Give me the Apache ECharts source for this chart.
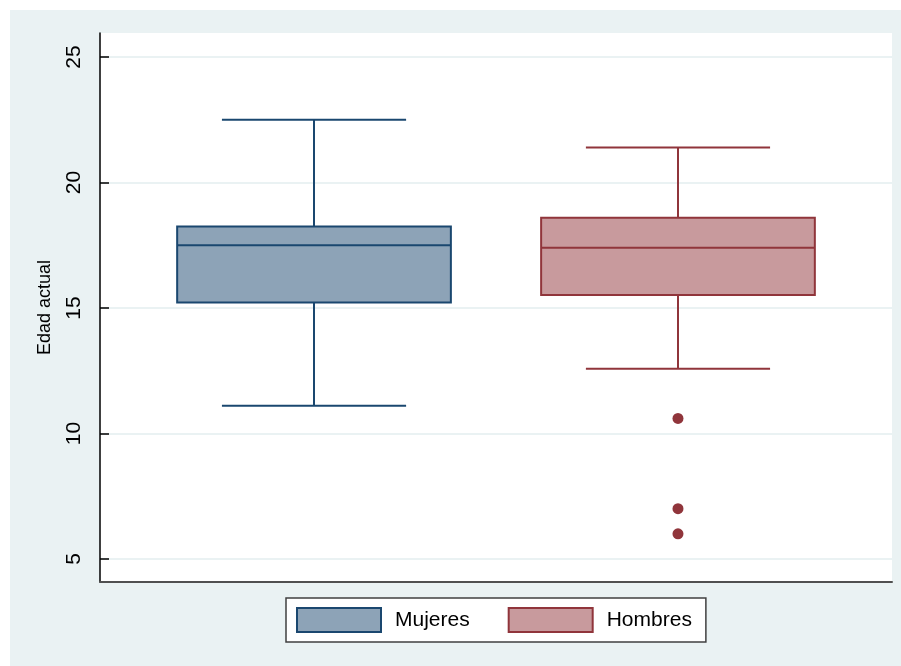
<!DOCTYPE html>
<html>
<head>
<meta charset="utf-8">
<script src="https://cdn.jsdelivr.net/npm/echarts@6/dist/echarts.min.js"></script>
<style>
  html, body { margin: 0; padding: 0; background: #ffffff; }
  #chart { width: 901px; height: 666px; }
</style>
</head>
<body>
<div id="chart"></div>
<script>
// Group names and their box positions on the x scale
const groups = ['Mujeres', 'Hombres'];
const groupPos = [0.588, 1.588];

// Five-number summaries: [lower whisker, Q1, median, Q3, upper whisker]
const mujeresStats = [11.1, 15.22, 17.5, 18.25, 22.5];
const hombresStats = [12.58, 15.52, 17.4, 18.6, 21.4];

// Outlying observations (Hombres)
const hombresOutliers = [10.6, 7.0, 6.0];

// Y axis tick labels
const yTicks = [5, 10, 15, 20, 25];

const X_MIN = 0, X_MAX = 2.176;
const NAVY = '#1A476F', NAVY_FILL = '#8DA3B7';
const MAROON = '#90353B', MAROON_FILL = '#C89A9D';
const BOX_HALF = 0.376;   // half box width, x units
const CAP_HALF = 0.253;   // half whisker-cap width, x units

function boxRenderer(stroke, fill) {
  return function (params, api) {
    const x = api.value(0);
    const lo = api.value(1), q1 = api.value(2), med = api.value(3), q3 = api.value(4), hi = api.value(5);
    const tl = api.coord([x - BOX_HALF, q3]);
    const br = api.coord([x + BOX_HALF, q1]);
    const mL = api.coord([x - BOX_HALF, med]);
    const mR = api.coord([x + BOX_HALF, med]);
    const cTop = api.coord([x, hi]);
    const cQ3 = api.coord([x, q3]);
    const cQ1 = api.coord([x, q1]);
    const cLo = api.coord([x, lo]);
    const capHiL = api.coord([x - CAP_HALF, hi]), capHiR = api.coord([x + CAP_HALF, hi]);
    const capLoL = api.coord([x - CAP_HALF, lo]), capLoR = api.coord([x + CAP_HALF, lo]);
    const ls = { stroke: stroke, lineWidth: 2 };
    return {
      type: 'group',
      children: [
        { type: 'line', shape: { x1: cTop[0], y1: cTop[1], x2: cQ3[0], y2: cQ3[1] }, style: ls },
        { type: 'line', shape: { x1: cQ1[0], y1: cQ1[1], x2: cLo[0], y2: cLo[1] }, style: ls },
        { type: 'line', shape: { x1: capHiL[0], y1: capHiL[1], x2: capHiR[0], y2: capHiR[1] }, style: ls },
        { type: 'line', shape: { x1: capLoL[0], y1: capLoL[1], x2: capLoR[0], y2: capLoR[1] }, style: ls },
        { type: 'rect', shape: { x: tl[0], y: tl[1], width: br[0] - tl[0], height: br[1] - tl[1] },
          style: { fill: fill, stroke: stroke, lineWidth: 2 } },
        { type: 'line', shape: { x1: mL[0], y1: mL[1], x2: mR[0], y2: mR[1] }, style: ls }
      ]
    };
  };
}

const chart = echarts.init(document.getElementById('chart'), null, { renderer: 'canvas' });
const FONT = 'Liberation Sans, Arial, sans-serif';

chart.setOption({
  animation: false,
  backgroundColor: '#EAF2F3',
  textStyle: { fontFamily: FONT },
  // thin white margin along the top and left page edges
  graphic: {
    elements: [
      { type: 'rect', left: 0, top: 0, silent: true, shape: { width: 901, height: 10 }, style: { fill: '#ffffff' } },
      { type: 'rect', left: 0, top: 0, silent: true, shape: { width: 10, height: 666 }, style: { fill: '#ffffff' } }
    ]
  },
  grid: {
    left: 100, right: 9, top: 33, bottom: 84,
    show: true, backgroundColor: '#ffffff', borderWidth: 0
  },
  legend: {
    left: 286, top: 598,
    padding: [9, 14, 9, 10],
    backgroundColor: '#ffffff',
    borderColor: '#404040', borderWidth: 1.5,
    itemWidth: 84, itemHeight: 24, itemGap: 38,
    textStyle: { fontSize: 21, color: '#000000', fontFamily: FONT, padding: [0, 0, 0, 9] },
    data: [
      { name: groups[0], icon: 'rect', itemStyle: { color: NAVY_FILL, borderColor: NAVY, borderWidth: 2 } },
      { name: groups[1], icon: 'rect', itemStyle: { color: MAROON_FILL, borderColor: MAROON, borderWidth: 2 } }
    ]
  },
  xAxis: {
    type: 'value', min: X_MIN, max: X_MAX,
    axisLine: { show: true, lineStyle: { color: '#505050', width: 2 } },
    axisTick: { show: false }, axisLabel: { show: false }, splitLine: { show: false }
  },
  yAxis: {
    type: 'value', min: 4.08, max: 25.96,
    name: 'Edad actual', nameLocation: 'middle', nameRotate: 90, nameGap: 46,
    nameTextStyle: { fontSize: 18, color: '#000000', fontFamily: FONT },
    axisLine: { show: true, lineStyle: { color: '#000000', width: 1.5 } },
    axisTick: { show: true, inside: true, length: 9, customValues: yTicks, lineStyle: { color: '#000000', width: 1.5 } },
    axisLabel: { customValues: yTicks, rotate: 90, fontSize: 21, color: '#000000', margin: 15, fontFamily: FONT },
    splitLine: { show: true, lineStyle: { color: '#EAF2F3', width: 2 } }
  },
  series: [
    {
      name: groups[0], type: 'custom',
      renderItem: boxRenderer(NAVY, NAVY_FILL),
      encode: { x: 0, y: [1, 2, 3, 4, 5] },
      itemStyle: { color: NAVY_FILL, borderColor: NAVY },
      data: [[groupPos[0]].concat(mujeresStats)]
    },
    {
      name: groups[1], type: 'custom',
      renderItem: boxRenderer(MAROON, MAROON_FILL),
      encode: { x: 0, y: [1, 2, 3, 4, 5] },
      itemStyle: { color: MAROON_FILL, borderColor: MAROON },
      data: [[groupPos[1]].concat(hombresStats)]
    },
    {
      name: 'Hombres atípicos', type: 'scatter',
      symbol: 'circle', symbolSize: 11,
      itemStyle: { color: MAROON, opacity: 1 },
      data: hombresOutliers.map(v => [groupPos[1], v])
    }
  ]
});
</script>
</body>
</html>
